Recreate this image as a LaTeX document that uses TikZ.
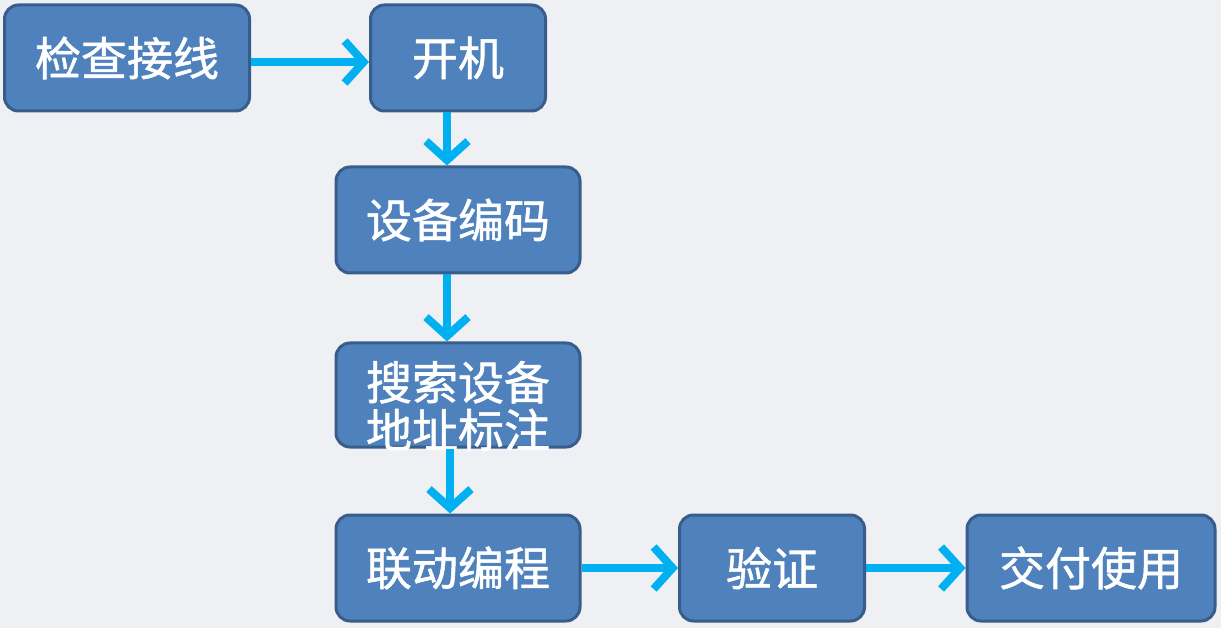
\documentclass[tikz,border=0pt]{standalone}
\usepackage{fontspec}
\newfontfamily\cjk[FakeBold=1.2]{Noto Sans CJK SC}
\usetikzlibrary{arrows.meta}
\definecolor{boxblue}{RGB}{79,129,189}
\definecolor{boxedge}{RGB}{56,93,138}
\definecolor{flowcyan}{RGB}{0,176,240}
\definecolor{bggray}{RGB}{238,240,244}
\tikzset{
  box/.style={draw=boxedge, fill=boxblue, line width=3pt, rounded corners=14pt,
    text=white, font=\cjk\fontsize{46}{50}\selectfont, minimum height=106pt, inner sep=0pt},
  flow/.style={draw=flowcyan, line width=8pt, -{Straight Barb[length=19pt,width=42pt]}},
}
\begin{document}
\begin{tikzpicture}[x=1pt,y=-1pt]
\fill[bggray] (0,0) rectangle (1221,628);
\useasboundingbox (0,0) rectangle (1221,628);
% boxes
\node[box, minimum width=245pt] (check) at (127,58) {检查接线};
\node[box, minimum width=175pt] (power) at (458,58) {开机};
\node[box, minimum width=244pt] (code) at (458,220) {设备编码};
\node[box, minimum width=244pt, minimum height=104pt] (addr) at (458,395)
  {\raisebox{-23pt}[0pt][0pt]{\begin{tabular}{@{}c@{}}搜索设备\\[-6pt]地址标注\end{tabular}}};
\node[box, minimum width=244pt] (link) at (458,568) {联动编程};
\node[box, minimum width=185pt] (check2) at (772,568) {验证};
\node[box, minimum width=248pt] (deliver) at (1091,568) {交付使用};
% arrows
\draw[flow] ([yshift=-4pt]check.east) -- ([yshift=-4pt]power.west);
\draw[flow] ([xshift=-11pt]power.south) -- ([xshift=-11pt]code.north);
\draw[flow] ([xshift=-11pt]code.south) -- ([xshift=-11pt]addr.north);
\draw[flow] ([xshift=-8pt]addr.south) -- ([xshift=-8pt]link.north);
\draw[flow] (link) -- (check2);
\draw[flow] (check2) -- (deliver);
\end{tikzpicture}
\end{document}
